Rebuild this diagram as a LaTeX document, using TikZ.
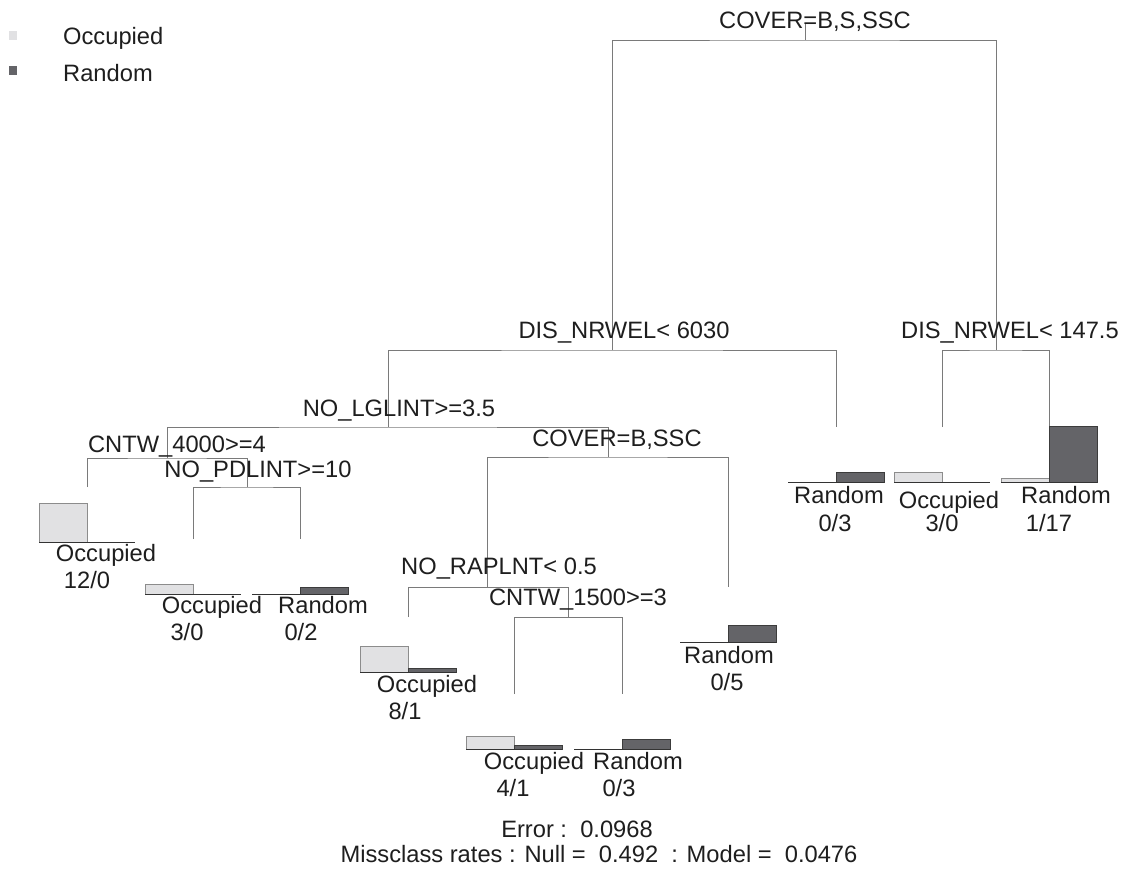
\documentclass[tikz,border=0pt]{standalone}
\usepackage{fontspec}
\setmainfont{Liberation Sans}
\definecolor{txt}{HTML}{1E1E1E}
\definecolor{treeline}{HTML}{7A7A7A}
\definecolor{occfill}{HTML}{E1E1E3}
\definecolor{occedge}{HTML}{8C8C8C}
\definecolor{randfill}{HTML}{646468}
\definecolor{randedge}{HTML}{3C3C3C}
\definecolor{baseln}{HTML}{333333}
\newcommand\leafbars[3]{%
  \ifdim #2pt>0pt \filldraw[occbar] (#1) ++(-48,55) rectangle ++(48,-#2);\fi
  \ifdim #3pt>0pt \filldraw[randbar] (#1) ++(0,55) rectangle ++(48,-#3);\fi
  \draw[basebar] (#1) ++(-48,55) -- ++(96,0);
}
\begin{document}
\begin{tikzpicture}[x=1pt,y=-1pt,
  lbl/.style={anchor=base, inner sep=0pt, text=txt, font=\fontsize{23.7}{28}\selectfont},
  edge/.style={draw=treeline, line width=0.9pt},
  occbar/.style={fill=occfill, draw=occedge, line width=0.9pt},
  randbar/.style={fill=randfill, draw=randedge, line width=0.9pt},
  basebar/.style={draw=baseln, line width=0.9pt}]
\useasboundingbox (0,0) rectangle (1130,879);

% legend
\fill[occfill] (9,31) rectangle (17,40);
\fill[randfill] (9,66) rectangle (17,75);
\node[lbl, anchor=base west] (legocc) at (63,44) {Occupied};
\node[lbl, anchor=base west] (legrand) at (63,81) {Random};

% tree coordinates
\coordinate (roottop) at (805,23);
\coordinate (root) at (805,40);
\coordinate (A) at (612,350);
\coordinate (B) at (996,350);
\coordinate (C) at (388,427);
\coordinate (R1) at (836,427);
\coordinate (R2) at (942,427);
\coordinate (R3) at (1049,427);
\coordinate (D) at (167,458);
\coordinate (F) at (608,457);
\coordinate (L1) at (87,487);
\coordinate (E) at (247,487);
\coordinate (L2) at (193,539);
\coordinate (L3) at (300,539);
\coordinate (G) at (487,587);
\coordinate (L5) at (728,587);
\coordinate (L4) at (408,617);
\coordinate (H) at (568,617);
\coordinate (L6) at (514,694);
\coordinate (L7) at (622,694);

% edges
\draw[edge] (roottop) -- (root);
\draw[edge] (A) |- (root) -| (B);
\draw[edge] (C) |- (A) -| (R1);
\draw[edge] (R2) |- (B) -| (R3);
\draw[edge] (D) |- (C) -| (F);
\draw[edge] (L1) |- (D) -| (E);
\draw[edge] (L2) |- (E) -| (L3);
\draw[edge] (G) |- (F) -| (L5);
\draw[edge] (L4) |- (G) -| (H);
\draw[edge] (L6) |- (H) -| (L7);

% leaf bars
\leafbars{L1}{39}{0}
\leafbars{L2}{9.75}{0}
\leafbars{L3}{0}{6.5}
\leafbars{L4}{26}{3.25}
\leafbars{L5}{0}{16.25}
\leafbars{L6}{13}{3.25}
\leafbars{L7}{0}{9.75}
\leafbars{R1}{0}{9.75}
\leafbars{R2}{9.75}{0}
\leafbars{R3}{3.25}{55.25}

% split labels
\node[lbl] (rootlab) at (815,28) {COVER=B,S,SSC};
\node[lbl] (Alab) at (624,338) {DIS\_NRWEL< 6030};
\node[lbl] (Blab) at (1010,338) {DIS\_NRWEL< 147.5};
\node[lbl] (Clab) at (399,416) {NO\_LGLINT>=3.5};
\node[lbl] (Dlab) at (177,452) {CNTW\_4000>=4};
\node[lbl] (Elab) at (258,477) {NO\_PDLINT>=10};
\node[lbl] (Flab) at (617,446) {COVER=B,SSC};
\node[lbl] (Glab) at (499,574) {NO\_RAPLNT< 0.5};
\node[lbl] (Hlab) at (578,605) {CNTW\_1500>=3};

% leaf labels
\node[lbl] (L1c) at (106,561) {Occupied};
\node[lbl] (L1n) at (87,588) {12/0};
\node[lbl] (L2c) at (212,613) {Occupied};
\node[lbl] (L2n) at (187,640) {3/0};
\node[lbl] (L3c) at (323,613) {Random};
\node[lbl] (L3n) at (301,640) {0/2};
\node[lbl] (L4c) at (427,692) {Occupied};
\node[lbl] (L4n) at (405,719) {8/1};
\node[lbl] (L5c) at (729,663) {Random};
\node[lbl] (L5n) at (727,690) {0/5};
\node[lbl] (L6c) at (534,769) {Occupied};
\node[lbl] (L6n) at (513,796) {4/1};
\node[lbl] (L7c) at (638,769) {Random};
\node[lbl] (L7n) at (619,796) {0/3};
\node[lbl] (R1c) at (839,503) {Random};
\node[lbl] (R1n) at (835,531) {0/3};
\node[lbl] (R2c) at (949,508) {Occupied};
\node[lbl] (R2n) at (942,531) {3/0};
\node[lbl] (R3c) at (1066,503) {Random};
\node[lbl] (R3n) at (1049,531) {1/17};

% footer
\node[lbl] (err) at (577,837) {Error :\ \ 0.0968};
\node[lbl] (mis) at (599,862) {Missclass rates : Null =\ \ 0.492\ \ : Model =\ \ 0.0476};
\end{tikzpicture}
\end{document}
